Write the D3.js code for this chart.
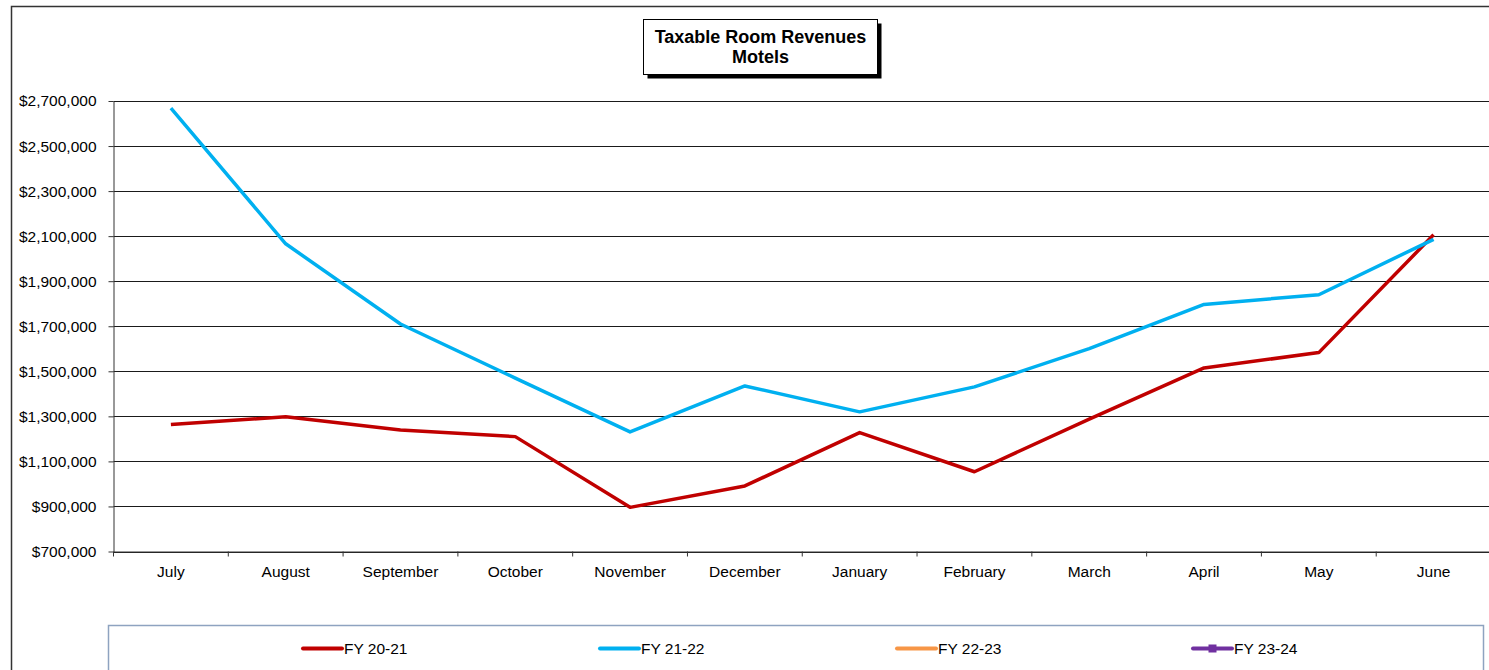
<!DOCTYPE html>
<html>
<head>
<meta charset="utf-8">
<script src="https://cdn.jsdelivr.net/npm/d3@7"></script>
<style>
  body { margin: 0; background: #fff; }
  svg { display: block; font-family: "Liberation Sans", Arial, sans-serif; }
</style>
</head>
<body>
<svg id="chart" width="1489" height="670"></svg>
<script>
const months = ['July', 'August', 'September', 'October', 'November', 'December',
  'January', 'February', 'March', 'April', 'May', 'June'];

const fy2021 = [1264000, 1298000, 1239000, 1210000, 896000, 991000,
  1228000, 1054000, 1288000, 1515000, 1583000, 2106000];
const fy2122 = [2668000, 2066000, 1710000, 1470000, 1231000, 1435000,
  1320000, 1431000, 1601000, 1797000, 1840000, 2086000];
const fy2223 = [];
const fy2324 = [];

const yTicks = [700000, 900000, 1100000, 1300000, 1500000, 1700000,
  1900000, 2100000, 2300000, 2500000, 2700000];

const seriesNames = ['FY 20-21', 'FY 21-22', 'FY 22-23', 'FY 23-24'];
const seriesValues = [fy2021, fy2122, fy2223, fy2324];
const seriesColors = ['#c00000', '#00b0f0', '#f79646', '#7030a0'];

const svg = d3.select('#chart');

// outer frame (runs off the right / bottom edge like the source)
svg.append('rect')
  .attr('x', 11.5).attr('y', 6.5)
  .attr('width', 1500).attr('height', 700)
  .attr('fill', 'none').attr('stroke', '#333').attr('stroke-width', 1.5);

const plot = { left: 113.5, right: 1491, top: 101, bottom: 551.5 };

const x = d3.scaleBand().domain(months).range([plot.left, plot.right]);
const y = d3.scaleLinear().domain([700000, 2700000]).range([plot.bottom, plot.top]);

// gridlines
svg.append('g')
  .selectAll('line')
  .data(yTicks)
  .join('line')
  .attr('x1', plot.left).attr('x2', plot.right)
  .attr('y1', d => Math.round(y(d)) + 0.5).attr('y2', d => Math.round(y(d)) + 0.5)
  .attr('stroke', '#1a1a1a').attr('stroke-width', 1);

// y axis
const fmt = d => '$' + d3.format(',')(d);
const yAxis = svg.append('g')
  .attr('transform', `translate(${plot.left},0)`)
  .call(d3.axisLeft(y).tickValues(yTicks).tickFormat(fmt).tickSize(5).tickPadding(12).tickSizeOuter(0));
yAxis.select('.domain').attr('stroke', '#333');
yAxis.selectAll('.tick line').attr('stroke', '#333');
yAxis.selectAll('text').attr('font-size', '15.5px').attr('fill', '#000')
  .attr('font-family', '"Liberation Sans", Arial, sans-serif');

// x axis
const xAxis = svg.append('g')
  .attr('transform', `translate(0,${plot.bottom})`)
  .call(d3.axisBottom(x).tickSize(0).tickPadding(14));
xAxis.select('.domain').attr('stroke', '#333');
xAxis.selectAll('text').attr('font-size', '15.5px').attr('fill', '#000')
  .attr('font-family', '"Liberation Sans", Arial, sans-serif');
// boundary ticks between categories
svg.append('g')
  .selectAll('line')
  .data(months)
  .join('line')
  .attr('x1', d => x(d)).attr('x2', d => x(d))
  .attr('y1', plot.bottom).attr('y2', plot.bottom + 5)
  .attr('stroke', '#333');

// lines
const line = d3.line()
  .x((d, i) => x(months[i]) + x.bandwidth() / 2)
  .y(d => y(d));

seriesValues.forEach((vals, i) => {
  if (!vals.length) return;
  svg.append('path')
    .datum(vals)
    .attr('fill', 'none')
    .attr('stroke', seriesColors[i])
    .attr('stroke-width', 3.5)
    .attr('stroke-linejoin', 'round')
    .attr('d', line);
});

// title box with shadow
const tb = { x: 643.5, y: 19.5, w: 234, h: 55 };
svg.append('rect')
  .attr('x', tb.x + 4).attr('y', tb.y + 4).attr('width', tb.w).attr('height', tb.h)
  .attr('fill', '#000');
svg.append('rect')
  .attr('x', tb.x).attr('y', tb.y).attr('width', tb.w).attr('height', tb.h)
  .attr('fill', '#fff').attr('stroke', '#000').attr('stroke-width', 1);
const title = svg.append('text')
  .attr('text-anchor', 'middle')
  .attr('font-size', '18px').attr('font-weight', 'bold').attr('fill', '#000');
title.append('tspan').attr('x', tb.x + tb.w / 2).attr('y', 43).text('Taxable Room Revenues');
title.append('tspan').attr('x', tb.x + tb.w / 2).attr('y', 63).text('Motels');

// legend
svg.append('rect')
  .attr('x', 108.5).attr('y', 625.5).attr('width', 1375).attr('height', 100)
  .attr('fill', '#fff').attr('stroke', '#8ea3c0').attr('stroke-width', 1.5);

const legendX = [303, 600, 897, 1193];
const legendY = 648.5;
seriesNames.forEach((name, i) => {
  const g = svg.append('g').attr('transform', `translate(${legendX[i]},${legendY})`);
  g.append('line')
    .attr('x1', 0).attr('x2', 39).attr('y1', 0).attr('y2', 0)
    .attr('stroke', seriesColors[i]).attr('stroke-width', 4).attr('stroke-linecap', 'round');
  if (i === 3) {
    g.append('rect').attr('x', 15.5).attr('y', -4).attr('width', 8).attr('height', 8)
      .attr('fill', seriesColors[i]);
  }
  g.append('text')
    .attr('x', 41).attr('y', 5.5)
    .attr('font-size', '15.5px').attr('fill', '#000')
    .text(name);
});
</script>
</body>
</html>
